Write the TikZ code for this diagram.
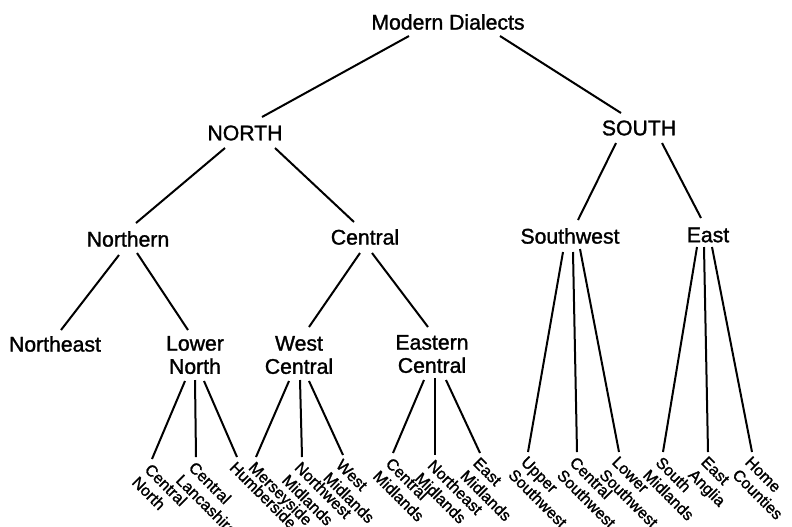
\documentclass[tikz,border=0pt]{standalone}
\usepackage{fontspec}
\setmainfont{Liberation Sans}[FakeBold=1.4]
\usetikzlibrary{calc}

\begin{document}
\begin{tikzpicture}[
    x=0.5pt, y=-0.5pt,
    branch/.style={font=\fontsize{10.6}{11.6}\selectfont, align=center, inner sep=2.5pt},
    leaf/.style={font=\fontsize{8}{9}\selectfont, align=left,
                 rotate=-45, anchor=north west, inner sep=1pt},
    edge/.style={line width=1pt},
]
\useasboundingbox (0,0) rectangle (792,526);

% ============================ upper levels ==============================
\node[branch] (md) at (448,22) {Modern Dialects};
\node[branch] (north) at (245,133) {NORTH};
\node[branch] (south) at (639,128) {SOUTH};

\node[branch] (northern) at (128,239) {Northern};
\node[branch] (central) at (365,237) {Central};
\node[branch] (southwest) at (570,236) {Southwest};
\node[branch] (east) at (708,235) {East};

\node[branch] (northeast) at (55,344) {Northeast};
\node[branch] (lowernorth) at (195,355) {Lower\\North};
\node[branch] (westcentral) at (299,355) {West\\Central};
\node[branch] (eastcentral) at (432,354) {Eastern\\Central};

% lines leave a little off each node's centre
\draw[edge] ($(md)+(-39,14)$) -- ($(north)+(17,-16)$);
\draw[edge] ($(md)+(52,14)$) -- ($(south)+(-18,-15)$);
\draw[edge] ($(north)+(-20,15)$) -- ($(northern)+(8,-16)$);
\draw[edge] ($(north)+(30,15)$) -- ($(central)+(-11,-15)$);
\draw[edge] ($(south)+(-23,15)$) -- ($(southwest)+(8,-16)$);
\draw[edge] ($(south)+(23,15)$) -- ($(east)+(-7,-17)$);
\draw[edge] ($(northern)+(-9,16)$) -- ($(northeast)+(6,-14)$);
\draw[edge] ($(northern)+(9,14)$) -- ($(lowernorth)+(-7,-25)$);
\draw[edge] ($(central)+(-5,16)$) -- ($(westcentral)+(10,-28)$);
\draw[edge] ($(central)+(7,16)$) -- ($(eastcentral)+(-4,-27)$);

% ============================ leaves ====================================
\node[leaf] (cnorth) at (152,459) {Central\\North};
\node[leaf] (clanc) at (196,457) {Central\\Lancashire};
\node[leaf] (humber) at (237,457) {Humberside};

\node[leaf] (mersey) at (256,457) {Merseyside};
\node[leaf] (nwmid) at (302,457) {Northwest\\Midlands};
\node[leaf] (wmid) at (343,455) {West\\Midlands};

\node[leaf] (cmid) at (393,453) {Central\\Midlands};
\node[leaf] (nemid) at (435,455) {Northeast\\Midlands};
\node[leaf] (emid) at (480,453) {East\\Midlands};

\node[leaf] (usw) at (528,452) {Upper\\Southwest};
\node[leaf] (csw) at (577,452) {Central\\Southwest};
\node[leaf] (lsw) at (619,452) {Lower\\Southwest};

\node[leaf] (smid) at (663,452) {South\\Midlands};
\node[leaf] (eang) at (708,452) {East\\Anglia};
\node[leaf] (homec) at (752,452) {Home\\Counties};

% ============================ fans to leaves ============================
\draw[edge] ($(lowernorth)+(-10,26)$) -- (cnorth.north west);
\draw[edge] ($(lowernorth)+(0,25)$) -- (clanc.north west);
\draw[edge] ($(lowernorth)+(9,26)$) -- (humber.north west);

\draw[edge] ($(westcentral)+(-10,26)$) -- (mersey.north west);
\draw[edge] ($(westcentral)+(1,25)$) -- (nwmid.north west);
\draw[edge] ($(westcentral)+(10,26)$) -- (wmid.north west);

\draw[edge] ($(eastcentral)+(-8,26)$) -- (cmid.north west);
\draw[edge] ($(eastcentral)+(3,24)$) -- (nemid.north west);
\draw[edge] ($(eastcentral)+(14,26)$) -- (emid.north west);

\draw[edge] ($(southwest)+(-7,16)$) -- (usw.north west);
\draw[edge] ($(southwest)+(3,16)$) -- (csw.north west);
\draw[edge] ($(southwest)+(10,13)$) -- (lsw.north west);

\draw[edge] ($(east)+(-11,12)$) -- (smid.north west);
\draw[edge] ($(east)+(-4,12)$) -- (eang.north west);
\draw[edge] ($(east)+(4,12)$) -- (homec.north west);

\end{tikzpicture}
\end{document}
